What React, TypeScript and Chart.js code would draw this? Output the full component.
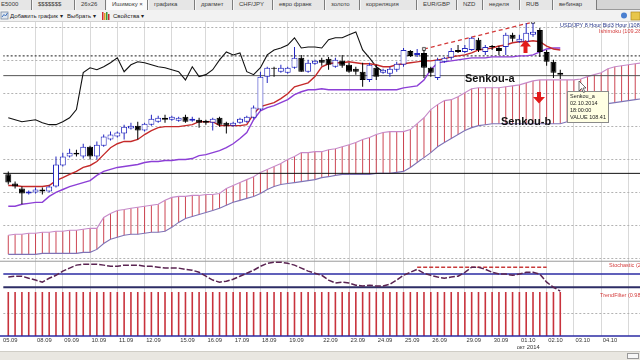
import React, { useEffect, useRef } from "react";
import { Chart, registerables } from "chart.js";

Chart.register(...registerables);

// ---------------- data (USD/JPY, one bar = 6 hours) ----------------
const openP = [
  105.55, 105.27, 105.12, 104.97, 105.0, 105.09, 105.03, 105.18, 105.82, 106.09,
  106.21, 106.09, 106.39, 106.09, 106.42, 106.61, 106.7, 106.79, 106.94, 107.03,
  106.88, 107.06, 107.15, 107.27, 107.21, 107.18, 107.3, 107.18, 107.21, 107.18,
  107.12, 107.27, 107.12, 107.03, 107.12, 107.15, 107.27, 107.52, 108.52, 108.79,
  108.67, 108.64, 108.79, 109.09, 108.67, 108.91, 109.03, 109.06, 108.82, 109.0,
  108.88, 108.76, 108.67, 108.42, 108.79, 108.64, 108.61, 108.73, 108.88, 109.3,
  109.18, 109.24, 108.79, 108.48, 108.97, 109.09, 109.33, 109.27, 109.33, 109.64,
  109.27, 109.45, 109.39, 109.42, 109.79, 109.58, 109.58, 109.79, 109.94, 109.27,
  108.97, 108.64,
];
const highP = [
  105.64, 105.33, 105.18, 105.06, 105.15, 105.15, 105.21, 106.09, 106.21, 106.33,
  106.3, 106.48, 106.42, 106.55, 106.76, 106.85, 106.85, 107.06, 107.12, 107.15,
  107.12, 107.36, 107.33, 107.36, 107.33, 107.3, 107.36, 107.3, 107.27, 107.21,
  107.27, 107.3, 107.15, 107.15, 107.27, 107.33, 107.64, 108.67, 108.82, 108.82,
  108.88, 108.82, 109.42, 109.18, 109.03, 109.03, 109.09, 109.12, 109.09, 109.18,
  108.94, 108.82, 108.94, 108.94, 108.88, 108.76, 108.82, 108.97, 109.39, 109.33,
  109.36, 109.33, 108.82, 109.09, 109.12, 109.39, 109.48, 109.48, 109.73, 109.7,
  109.48, 109.48, 109.45, 109.85, 109.85, 109.79, 110.15, 110.15, 110.0, 109.33,
  109.03, 108.73,
];
const lowP = [
  105.24, 105.12, 104.64, 104.94, 104.97, 104.94, 105.0, 105.15, 105.79, 106.06,
  106.09, 106.03, 106.0, 106.0, 106.39, 106.58, 106.67, 106.61, 106.91, 106.61,
  106.85, 107.03, 107.12, 107.12, 107.18, 107.15, 107.12, 107.15, 106.97, 107.06,
  106.88, 107.0, 106.79, 107.0, 107.09, 107.12, 107.24, 107.48, 108.33, 108.52,
  108.64, 108.61, 108.76, 108.67, 108.64, 108.88, 108.85, 108.73, 108.79, 108.79,
  108.64, 108.58, 108.21, 108.36, 108.42, 108.61, 108.52, 108.67, 108.82, 109.12,
  109.12, 108.48, 108.52, 108.42, 108.94, 109.03, 109.24, 109.24, 109.3, 109.27,
  109.18, 109.33, 109.18, 109.18, 109.58, 109.55, 109.55, 109.73, 109.12, 108.85,
  108.48, 108.45,
];
const closeP = [
  105.3, 105.18, 104.97, 105.03, 105.09, 105.03, 105.18, 105.85, 106.09, 106.21,
  106.15, 106.39, 106.09, 106.45, 106.7, 106.76, 106.82, 107.0, 107.03, 106.88,
  107.09, 107.24, 107.27, 107.21, 107.3, 107.27, 107.15, 107.24, 107.12, 107.12,
  107.24, 107.06, 107.03, 107.12, 107.24, 107.3, 107.58, 108.52, 108.79, 108.76,
  108.79, 108.79, 109.09, 108.67, 108.94, 109.0, 108.94, 108.88, 109.03, 108.85,
  108.67, 108.67, 108.42, 108.88, 108.52, 108.73, 108.76, 108.91, 109.33, 109.15,
  109.24, 108.79, 108.64, 109.03, 109.09, 109.3, 109.27, 109.39, 109.7, 109.33,
  109.42, 109.42, 109.3, 109.79, 109.67, 109.67, 109.85, 109.88, 109.27, 108.97,
  108.64, 108.58,
];
const tenkan = [
  105.21, 105.21, 105.18, 105.18, 105.18, 105.18, 105.21, 105.36, 105.45, 105.55,
  105.64, 105.76, 105.82, 105.94, 106.15, 106.36, 106.48, 106.55, 106.55, 106.61,
  106.76, 106.88, 106.97, 107.0, 107.0, 107.0, 107.03, 107.06, 107.15, 107.15,
  107.15, 107.03, 107.03, 107.03, 107.03, 107.06, 107.39, 107.61, 107.67, 107.73,
  107.85, 108.0, 108.21, 108.27, 108.33, 108.52, 108.82, 108.91, 108.94, 108.94,
  108.97, 108.94, 108.91, 108.91, 108.88, 108.82, 108.82, 108.88, 108.91, 108.94,
  108.97, 109.0, 109.0, 109.03, 109.06, 109.12, 109.15, 109.18, 109.24, 109.33,
  109.36, 109.39, 109.45, 109.48, 109.55, 109.58, 109.58, 109.61, 109.58, 109.45,
  109.36, 109.33,
];
const kijun = [
  104.58, 104.58, 104.64, 104.67, 104.7, 104.7, 104.88, 105.0, 105.09, 105.18,
  105.24, 105.3, 105.36, 105.52, 105.64, 105.7, 105.76, 105.79, 105.82, 105.85,
  105.91, 105.94, 105.94, 105.97, 105.97, 106.0, 106.0, 106.03, 106.12, 106.15,
  106.21, 106.27, 106.36, 106.48, 106.64, 106.82, 107.21, 107.48, 107.58, 107.64,
  107.73, 107.82, 107.97, 108.06, 108.12, 108.12, 108.15, 108.12, 108.12, 108.12,
  108.12, 108.12, 108.12, 108.12, 108.12, 108.12, 108.12, 108.12, 108.18, 108.21,
  108.24, 108.42, 108.73, 108.94, 108.97, 109.0, 109.03, 109.06, 109.09, 109.09,
  109.09, 109.12, 109.12, 109.12, 109.12, 109.15, 109.15, 109.18, 109.27, 109.36,
  109.39, 109.39,
];
const chikou = [
  107.27, 107.21, 107.15, 107.18, 107.21, 107.12, 107.06, 107.06, 107.15, 107.27,
  107.52, 108.64, 108.79, 108.73, 108.82, 108.94, 109.09, 108.67, 108.88, 108.97,
  108.94, 108.88, 108.82, 108.79, 108.73, 108.67, 108.42, 108.82, 108.52, 108.58,
  108.73, 109.03, 109.27, 109.18, 109.24, 108.67, 108.58, 108.79, 109.18, 109.33,
  109.39, 109.48, 109.7, 109.39, 109.42, 109.42, 109.39, 109.64, 109.7, 109.7,
  109.79, 109.88, 109.33, 109.09, 108.82, 108.67,
];
const senkouA = [
  103.7, 103.73, 103.73, 103.76, 103.76, 103.79, 103.79, 103.82, 103.82, 103.85,
  103.85, 103.88, 103.91, 103.91, 104.24, 104.36, 104.45, 104.48, 104.52, 104.55,
  104.58, 104.61, 104.64, 104.76, 104.85, 104.88, 104.88, 104.91, 104.91, 104.94,
  104.94, 104.97, 105.12, 105.21, 105.3, 105.39, 105.48, 105.61, 105.7, 105.79,
  105.88, 106.0, 106.09, 106.21, 106.21, 106.24, 106.24, 106.3, 106.33, 106.39,
  106.45, 106.52, 106.61, 106.67, 106.76, 106.82, 106.85, 106.85, 106.85, 106.91,
  107.09, 107.27, 107.52, 107.67, 107.79, 107.82, 107.91, 108.03, 108.15, 108.18,
  108.18, 108.18, 108.18, 108.21, 108.24, 108.27, 108.33, 108.39, 108.42, 108.42,
  108.42, 108.42, 108.42, 108.42, 108.45, 108.52, 108.58, 108.64, 108.76, 108.82,
  108.85, 108.88, 108.91, 108.94,
];
const senkouB = [
  103.12, 103.12, 103.12, 103.12, 103.12, 103.15, 103.15, 103.15, 103.15, 103.15,
  103.15, 103.18, 103.18, 103.27, 103.45, 103.58, 103.64, 103.7, 103.73, 103.73,
  103.76, 103.79, 103.79, 103.82, 103.94, 104.09, 104.21, 104.27, 104.33, 104.39,
  104.45, 104.52, 104.61, 104.7, 104.76, 104.82, 104.88, 104.97, 105.09, 105.18,
  105.24, 105.27, 105.3, 105.33, 105.36, 105.39, 105.45, 105.48, 105.52, 105.55,
  105.55, 105.55, 105.55, 105.55, 105.58, 105.58, 105.58, 105.61, 105.64, 105.76,
  105.91, 106.06, 106.21, 106.39, 106.52, 106.64, 106.76, 106.88, 106.97, 107.03,
  107.06, 107.09, 107.09, 107.09, 107.09, 107.09, 107.09, 107.09, 107.09, 107.09,
  107.09, 107.09, 107.15, 107.27, 107.39, 107.48, 107.58, 107.64, 107.7, 107.73,
  107.76, 107.79, 107.82, 107.85,
];
const stochK = [
  47, 50, 50, 43, 37, 30, 43, 53, 67, 77,
  87, 90, 90, 90, 87, 83, 83, 87, 87, 87,
  83, 83, 80, 77, 77, 77, 73, 70, 63, 50,
  37, 30, 33, 40, 50, 60, 70, 83, 93, 97,
  97, 93, 87, 77, 67, 60, 53, 37, 27, 30,
  27, 20, 17, 20, 17, 17, 23, 37, 53, 63,
  73, 60, 53, 47, 43, 47, 50, 63, 80, 80,
  73, 63, 57, 57, 53, 57, 63, 63, 57, 30,
  13, 0,
];
const trendFilter = [
  0.98, 0.98, 0.98, 0.98, 0.98, 0.98, 0.98, 0.98, 0.98, 0.98,
  0.98, 0.98, 0.98, 0.98, 0.98, 0.98, 0.98, 0.98, 0.98, 0.98,
  0.98, 0.98, 0.98, 0.98, 0.98, 0.98, 0.98, 0.98, 0.98, 0.98,
  0.98, 0.98, 0.98, 0.98, 0.98, 0.98, 0.98, 0.98, 0.98, 0.98,
  0.98, 0.98, 0.98, 0.98, 0.98, 0.98, 0.98, 0.98, 0.98, 0.98,
  0.98, 0.98, 0.98, 0.98, 0.98, 0.98, 0.98, 0.98, 0.98, 0.98,
  0.98, 0.98, 0.98, 0.98, 0.98, 0.98, 0.98, 0.98, 0.98, 0.98,
  0.98, 0.98, 0.98, 0.98, 0.98, 0.98, 0.98, 0.98, 0.98, 0.98,
  0.98, 0.98,
];
const dayLabels = [
  "05.09", "08.09", "09.09", "10.09", "11.09", "12.09", "15.09", "16.09", "17.09", "18.09", "19.09",
  "22.09", "23.09", "24.09", "25.09", "26.09", "29.09", "30.09", "01.10", "02.10", "03.10", "04.10",
];
const dayStartBar = [0, 5, 9, 13, 17, 21, 26, 30, 34, 38, 42, 47, 51, 55, 59, 63, 68, 72, 76, 80, 84, 88];
const sessionGrid = [4, 8, 12, 16, 20, 24, 29, 33, 37, 41, 45, 50, 54, 58, 62, 67, 71, 75, 79, 83, 87, 91];
const monthDay = "01.10";
const monthText = "окт 2014";
const priceGrid = [103, 104, 105, 106, 107, 108, 109, 110];
const levelDotted = 109.15;
const levelGray = 108.55;
const levelBlack = 105.58;
const trendBars = [61, 77];
const trendPrices = [109.36, 110.18];
const stochUpper = 80;
const stochUpperBars = [60, 79];
const stochMid = 57;
const stochLow = 13;

const TABS: [string, number, number][] = [
  ["E5000", 0, 32], ["$$$$$$$", 32, 43], ["26x26", 75, 31], ["Ишимоку ×", 106, 42],
  ["графика", 148, 47], ["драгмет", 195, 38], ["CHF/JPY", 233, 40], ["евро франк", 273, 52],
  ["золото", 325, 35], ["корреляция", 360, 57], ["EUR/GBP", 417, 40], ["NZD", 457, 26],
  ["неделя", 483, 37], ["RUB", 520, 33], ["вебинар", 553, 44],
];

const FONT = '"Liberation Sans", Arial, sans-serif';

export default function App() {
  const canvasRef = useRef<HTMLCanvasElement>(null);

  useEffect(() => {
    const canvas = canvasRef.current;
    if (!canvas) return;
    const pts = (arr: number[]) => arr.map((v, i) => ({ x: i, y: v }));
    const hline = (v: number, from = -2, to = 95) => [
      { x: from, y: v },
      { x: to, y: v },
    ];
    const bull = openP.map((o, i) => closeP[i] >= o);
    const blue = "#2326bf";

    const lineBase = { type: "line" as const, pointRadius: 0, tension: 0, xAxisID: "x" };

    const chart = new Chart(canvas, {
      type: "bar",
      data: {
        datasets: [
          {
            type: "bar",
            label: "body",
            data: openP.map((o, i) => ({ x: i, y: [o, closeP[i]] })) as any,
            backgroundColor: bull.map((b) => (b ? "#ffffff" : "#000000")),
            borderColor: bull.map((b) => (b ? blue : "#000000")),
            borderWidth: 1,
            borderSkipped: false,
            barThickness: 6,
            minBarLength: 1,
            grouped: false,
            inflateAmount: 0,
            order: 1,
            xAxisID: "x",
            yAxisID: "y",
          } as any,
          {
            type: "bar",
            label: "wick",
            data: lowP.map((l, i) => ({ x: i, y: [l, highP[i]] })) as any,
            backgroundColor: bull.map((b) => (b ? blue : "#000000")),
            barThickness: 1,
            grouped: false,
            inflateAmount: 0,
            order: 2,
            xAxisID: "x",
            yAxisID: "y",
          } as any,
          {
            ...lineBase,
            label: "trendline",
            data: trendBars.map((b, i) => ({ x: b, y: trendPrices[i] })),
            borderColor: "#d43a3a",
            borderWidth: 1.3,
            borderDash: [4, 3],
            pointRadius: 2.2,
            pointStyle: "rect",
            pointBackgroundColor: "#d6d6d6",
            pointBorderColor: "#666666",
            pointBorderWidth: 1,
            order: 3,
            yAxisID: "y",
          } as any,
          { ...lineBase, label: "tenkan", data: pts(tenkan), borderColor: "#c52a2a", borderWidth: 1.4, order: 4, yAxisID: "y" } as any,
          { ...lineBase, label: "kijun", data: pts(kijun), borderColor: "#8c3fd6", borderWidth: 1.4, order: 5, yAxisID: "y" } as any,
          { ...lineBase, label: "chikou", data: pts(chikou), borderColor: "#111111", borderWidth: 1.1, order: 6, yAxisID: "y" } as any,
          { ...lineBase, label: "lvl1", data: hline(levelDotted), borderColor: "#1a1a1a", borderWidth: 1, borderDash: [2, 2], order: 7, yAxisID: "y" } as any,
          { ...lineBase, label: "lvl2", data: hline(levelGray), borderColor: "#555555", borderWidth: 1, order: 8, yAxisID: "y" } as any,
          { ...lineBase, label: "lvl3", data: hline(levelBlack), borderColor: "#111111", borderWidth: 1, order: 9, yAxisID: "y" } as any,
          { ...lineBase, label: "senkouA", data: pts(senkouA), borderColor: "#c68ac9", borderWidth: 1.1, order: 10, yAxisID: "y" } as any,
          { ...lineBase, label: "senkouB", data: pts(senkouB), borderColor: "#7f73b6", borderWidth: 1.1, order: 11, yAxisID: "y" } as any,
          {
            type: "bar",
            label: "cloud",
            data: senkouA.map((a, i) => ({ x: i, y: [senkouB[i], a] })) as any,
            backgroundColor: "rgba(200,50,64,0.9)",
            barThickness: 1,
            grouped: false,
            inflateAmount: 0,
            order: 12,
            xAxisID: "x",
            yAxisID: "y",
          } as any,
          // stochastic panel
          { ...lineBase, label: "stochTop", data: hline(100), borderColor: "#9a9a9a", borderWidth: 1, order: 13, yAxisID: "ys", clip: 4 } as any,
          { ...lineBase, label: "stochMid", data: hline(stochMid), borderColor: "#2b2ba3", borderWidth: 1.5, order: 14, yAxisID: "ys" } as any,
          { ...lineBase, label: "stochLow", data: hline(stochLow), borderColor: "#2e2e66", borderWidth: 2, order: 15, yAxisID: "ys" } as any,
          {
            ...lineBase,
            label: "stochUp",
            data: hline(stochUpper, stochUpperBars[0], stochUpperBars[1]),
            borderColor: "#c83a3a",
            borderWidth: 1.5,
            borderDash: [4, 2],
            order: 16,
            yAxisID: "ys",
          } as any,
          { ...lineBase, label: "stoch", data: pts(stochK), borderColor: "#5a2452", borderWidth: 1.5, borderDash: [6, 2], order: 12.5, yAxisID: "ys", clip: 4 } as any,
          // trend filter panel
          {
            type: "bar",
            label: "trendfilter",
            data: trendFilter.map((v, i) => ({ x: i, y: [0, v] })) as any,
            backgroundColor: "#c8323c",
            barThickness: 1.6,
            grouped: false,
            inflateAmount: 0,
            order: 18,
            xAxisID: "x",
            yAxisID: "yt",
          } as any,
          { ...lineBase, label: "tfBottom", data: hline(0), borderColor: "#2b2ba3", borderWidth: 1.5, order: 17, yAxisID: "yt", clip: 4 } as any,
        ],
      },
      options: {
        responsive: false,
        animation: false,
        devicePixelRatio: 1,
        events: [],
        layout: { padding: 0, autoPadding: false },
        plugins: { legend: { display: false }, tooltip: { enabled: false }, title: { display: false } },
        scales: {
          x: {
            type: "linear",
            axis: "x",
            position: "bottom",
            min: -0.73,
            max: 92.7,
            offset: false,
            afterBuildTicks: (ax: any) => {
              ax.ticks = sessionGrid.map((v) => ({ value: v }));
            },
            ticks: { display: false },
            grid: { color: "#d9d9d9", lineWidth: 1, drawTicks: false, offset: false },
            border: { display: false },
          },
          xl: {
            type: "linear",
            axis: "x",
            position: "bottom",
            min: -0.73,
            max: 92.7,
            offset: false,
            afterBuildTicks: (ax: any) => {
              ax.ticks = dayStartBar.map((v) => ({ value: v }));
            },
            ticks: {
              autoSkip: false,
              maxRotation: 0,
              minRotation: 0,
              padding: 1,
              labelOffset: 2,
              color: "#333333",
              font: { family: FONT, size: 5.8, lineHeight: "7px" },
              callback: (_v: any, i: number) =>
                dayLabels[i] === monthDay ? [dayLabels[i], monthText] : dayLabels[i],
            },
            grid: { display: false, drawTicks: false, offset: false },
            border: { display: false },
          },
          y: {
            type: "linear",
            axis: "y",
            position: "right",
            stack: "panels",
            stackWeight: 240,
            min: 102.91,
            max: 110.18,
            afterBuildTicks: (ax: any) => {
              ax.ticks = priceGrid.map((v) => ({ value: v }));
            },
            ticks: { display: false },
            grid: { color: "#b2b2b2", drawTicks: false },
            border: { display: false, dash: [2, 2] },
          },
          ys: {
            type: "linear",
            axis: "y",
            position: "right",
            stack: "panels",
            stackWeight: 30,
            min: 0,
            max: 100,
            ticks: { display: false },
            grid: { display: false, drawTicks: false },
            border: { display: false },
          },
          yt: {
            type: "linear",
            axis: "y",
            position: "right",
            stack: "panels",
            stackWeight: 45,
            min: 0,
            max: 1,
            afterBuildTicks: (ax: any) => {
              ax.ticks = [{ value: 0.5 }];
            },
            ticks: { display: false },
            grid: { color: "#b2b2b2", drawTicks: false },
            border: { display: false, dash: [2, 2] },
          },
        } as any,
      },
    } as any);
    return () => chart.destroy();
  }, []);

  const small = { position: "absolute" as const, whiteSpace: "nowrap" as const, fontFamily: FONT };

  return (
    <div
      style={{
        position: "fixed",
        left: 0,
        top: 0,
        width: 640,
        height: 360,
        overflow: "hidden",
        background: "#ffffff",
        fontFamily: FONT,
      }}
    >
      {/* tab strip */}
      <div style={{ position: "absolute", left: 0, top: 0, width: 640, height: 10, background: "#d5d5d5", borderBottom: "1px solid #9a9a9a", boxSizing: "border-box" }} />
      {TABS.map(([name, left, width], i) => (
        <div
          key={name}
          style={{
            ...small,
            left,
            top: 0,
            width,
            height: 10,
            boxSizing: "border-box",
            background: i === 3 ? "#fbfbfb" : "#e6e6e6",
            borderRight: "1px solid #7c7c7c",
            borderLeft: i === 0 ? "none" : "1px solid #f6f6f6",
            fontSize: 6,
            lineHeight: "9px",
            color: "#3a3a3a",
            paddingLeft: i === 0 ? 1 : 5,
            overflow: "hidden",
          }}
        >
          {name}
        </div>
      ))}
      {/* toolbar */}
      <div style={{ position: "absolute", left: 0, top: 10, width: 640, height: 12, background: "#f2f2f2", borderBottom: "1px solid #d2d2d2", boxSizing: "border-box" }} />
      <div style={{ ...small, left: 10, top: 12, fontSize: 6, lineHeight: "8px", color: "#222" }}>Добавить график ▾</div>
      <div style={{ ...small, left: 67, top: 12, fontSize: 6, lineHeight: "8px", color: "#222" }}>Выбрать ▾</div>
      <div style={{ ...small, left: 113, top: 12, fontSize: 6, lineHeight: "8px", color: "#222" }}>Свойства ▾</div>

      <canvas
        ref={canvasRef}
        width={640}
        height={330}
        style={{ position: "absolute", left: 0, top: 22, width: 640, height: 330 }}
      />

      {/* bottom bar */}
      <div style={{ position: "absolute", left: 0, top: 351, width: 640, height: 9, background: "#e9e7e1", borderTop: "1px solid #cfcdc6", boxSizing: "border-box" }} />
      <div style={{ position: "absolute", left: 627, top: 353, width: 12, height: 6, background: "#f7f7f7", border: "1px solid #999", boxSizing: "border-box" }} />

      {/* legends */}
      <div style={{ ...small, left: 560, top: 22, fontSize: 5.5, lineHeight: "7px", color: "#2b3a8c" }}>USD/JPY 8 Hour Bid3 Hour (108.57</div>
      <div style={{ ...small, left: 599, top: 28, fontSize: 5.5, lineHeight: "7px", color: "#d43c3c" }}>Ishimoku (109.28</div>
      <div style={{ ...small, left: 609, top: 262, fontSize: 5.5, lineHeight: "7px", color: "#d43c3c" }}>Stochastic (2</div>
      <div style={{ ...small, left: 600, top: 292, fontSize: 5.5, lineHeight: "7px", color: "#d43c3c" }}>TrendFilter (0.9878</div>

      {/* annotations */}
      <div style={{ ...small, left: 465, top: 73, fontSize: 11, lineHeight: "11px", fontWeight: "bold", color: "#111" }}>Senkou-a</div>
      <div style={{ ...small, left: 501, top: 116, fontSize: 11, lineHeight: "11px", fontWeight: "bold", color: "#111" }}>Senkou-b</div>
      <div
        style={{
          ...small,
          left: 567,
          top: 91,
          width: 42,
          height: 32,
          boxSizing: "border-box",
          background: "#ffffe3",
          border: "1px solid #8a8a8a",
          padding: "1px 2px",
          fontSize: 5.5,
          lineHeight: "7px",
          color: "#222",
        }}
      >
        <div>Senkou_a</div>
        <div>02.10.2014</div>
        <div>18:00:00</div>
        <div>VALUE 108.41</div>
      </div>

      <svg width={640} height={360} style={{ position: "absolute", left: 0, top: 0, pointerEvents: "none" }}>
        {/* toolbar icons */}
        <rect x={1} y={12} width={7} height={7} fill="#dfe6ef" stroke="#7b8aa0" strokeWidth={0.8} />
        <polyline points="2,17 4,14.5 5.5,16 7.5,13" fill="none" stroke="#2a63b8" strokeWidth={0.9} />
        <rect x={102} y={12} width={1.5} height={8} fill="#d23030" />
        <rect x={104} y={13} width={1.5} height={7} fill="#e0a020" />
        <rect x={106} y={12} width={1.5} height={8} fill="#3a9a3a" />
        <rect x={108} y={14} width={1.5} height={6} fill="#c03030" />
        <circle cx={624} cy={15.5} r={3} fill="#4a7fd0" />
        <rect x={631} y={12} width={9} height={8} fill="#e8c64a" stroke="#b08a20" strokeWidth={0.7} />
        {/* red arrows */}
        <polygon points="525.5,40 531,46.5 527.5,46.5 527.5,53 523.5,53 523.5,46.5 520,46.5" fill="#e31b1b" />
        <polygon points="537,92 541,92 541,97 545,97 539,103.5 533,97 537,97" fill="#e31b1b" />
        {/* mouse cursor */}
        <polygon points="579,81 579,91 581.5,88.5 583.5,92.5 585,91.8 583,88 586,88" fill="#ffffff" stroke="#333" strokeWidth={0.7} />
      </svg>
    </div>
  );
}
